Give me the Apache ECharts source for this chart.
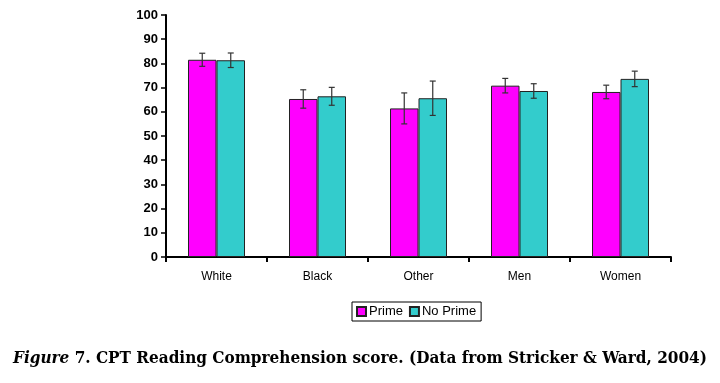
<!DOCTYPE html>
<html><head><meta charset="utf-8">
<script src="https://cdn.jsdelivr.net/npm/echarts@6/dist/echarts.min.js"></script>
<style>html,body{margin:0;padding:0;background:#fff}#c{width:720px;height:383px}</style>
</head><body><div id="c"></div>
<script>
const categories = ['White', 'Black', 'Other', 'Men', 'Women'];
const primeValues = [81.5, 65.3, 61.4, 70.8, 68.2];
const primeErrors = [2.7, 3.8, 6.4, 3.0, 2.8];
const noPrimeValues = [81.3, 66.4, 65.6, 68.6, 73.6];
const noPrimeErrors = [3.0, 3.7, 7.1, 3.0, 3.2];
const yTicks = [0, 10, 20, 30, 40, 50, 60, 70, 80, 90, 100];

const BAR_W = 28.5;
function errSeries(name, vals, errs, offset) {
  return {
    type: 'custom', name: name + ' err', silent: true, z: 5,
    data: vals.map((v, i) => [i, v, errs[i]]),
    renderItem: function (params, api) {
      const c = api.value(0), v = api.value(1), e = api.value(2);
      const hi = api.coord([c, v + e]);
      const lo = api.coord([c, v - e]);
      const x = hi[0] + offset * BAR_W / 2;
      const cap = 3;
      const st = { stroke: '#333', lineWidth: 1.2 };
      return { type: 'group', children: [
        { type: 'line', shape: { x1: x, y1: hi[1], x2: x, y2: lo[1] }, style: st },
        { type: 'line', shape: { x1: x - cap, y1: hi[1], x2: x + cap, y2: hi[1] }, style: st },
        { type: 'line', shape: { x1: x - cap, y1: lo[1], x2: x + cap, y2: lo[1] }, style: st }
      ]};
    }
  };
}

const chart = echarts.init(document.getElementById('c'));
chart.setOption({
  animation: false,
  backgroundColor: '#fff',
  grid: { left: 166, right: 49, top: 15, bottom: 126 },
  legend: {
    data: ['Prime', 'No Prime'],
    left: 352, top: 302,
    itemWidth: 9, itemHeight: 9, itemGap: 6,
    padding: [3, 5, 3, 4],
    borderColor: '#000', borderWidth: 1,
    icon: 'rect',
    textStyle: { fontFamily: 'Liberation Sans, Arial, sans-serif', fontSize: 13, color: '#000', padding: [0, 0, 0, -2] }
  },
  xAxis: {
    type: 'category', data: categories,
    axisLine: { lineStyle: { color: '#000', width: 2 } },
    axisTick: { show: true, alignWithLabel: false, length: 5, lineStyle: { color: '#000', width: 2 } },
    axisLabel: { color: '#000', fontFamily: 'Liberation Sans, Arial, sans-serif', fontSize: 12, margin: 14 }
  },
  yAxis: {
    type: 'value', min: yTicks[0], max: yTicks[yTicks.length - 1], interval: 10,
    axisLine: { show: true, lineStyle: { color: '#000', width: 2 } },
    axisTick: { show: true, length: 5, lineStyle: { color: '#000', width: 1.5 } },
    splitLine: { show: false },
    axisLabel: { color: '#000', fontFamily: 'Liberation Sans, Arial, sans-serif', fontWeight: 'bold', fontSize: 13, margin: 8 }
  },
  series: [
    { name: 'Prime', type: 'bar', data: primeValues, barWidth: BAR_W, barGap: '0%',
      itemStyle: { color: '#FF00FF', borderColor: '#222', borderWidth: 1 } },
    { name: 'No Prime', type: 'bar', data: noPrimeValues, barWidth: BAR_W, barGap: '0%',
      itemStyle: { color: '#33CCCC', borderColor: '#222', borderWidth: 1 } },
    errSeries('Prime', primeValues, primeErrors, -1),
    errSeries('No Prime', noPrimeValues, noPrimeErrors, 1)
  ],
  graphic: [{
    type: 'text', left: 'center', top: 350,
    style: {
      rich: {
        i: { fontFamily: 'DejaVu Serif Condensed, Liberation Serif, serif', fontStyle: 'italic', fontWeight: 'bold', fontSize: 17, fill: '#000' },
        b: { fontFamily: 'DejaVu Serif Condensed, Liberation Serif, serif', fontWeight: 'bold', fontSize: 17, fill: '#000' }
      },
      text: '{i|Figure}{b| 7. CPT Reading Comprehension score. (Data from Stricker & Ward, 2004)}'
    }
  }]
});
</script></body></html>
